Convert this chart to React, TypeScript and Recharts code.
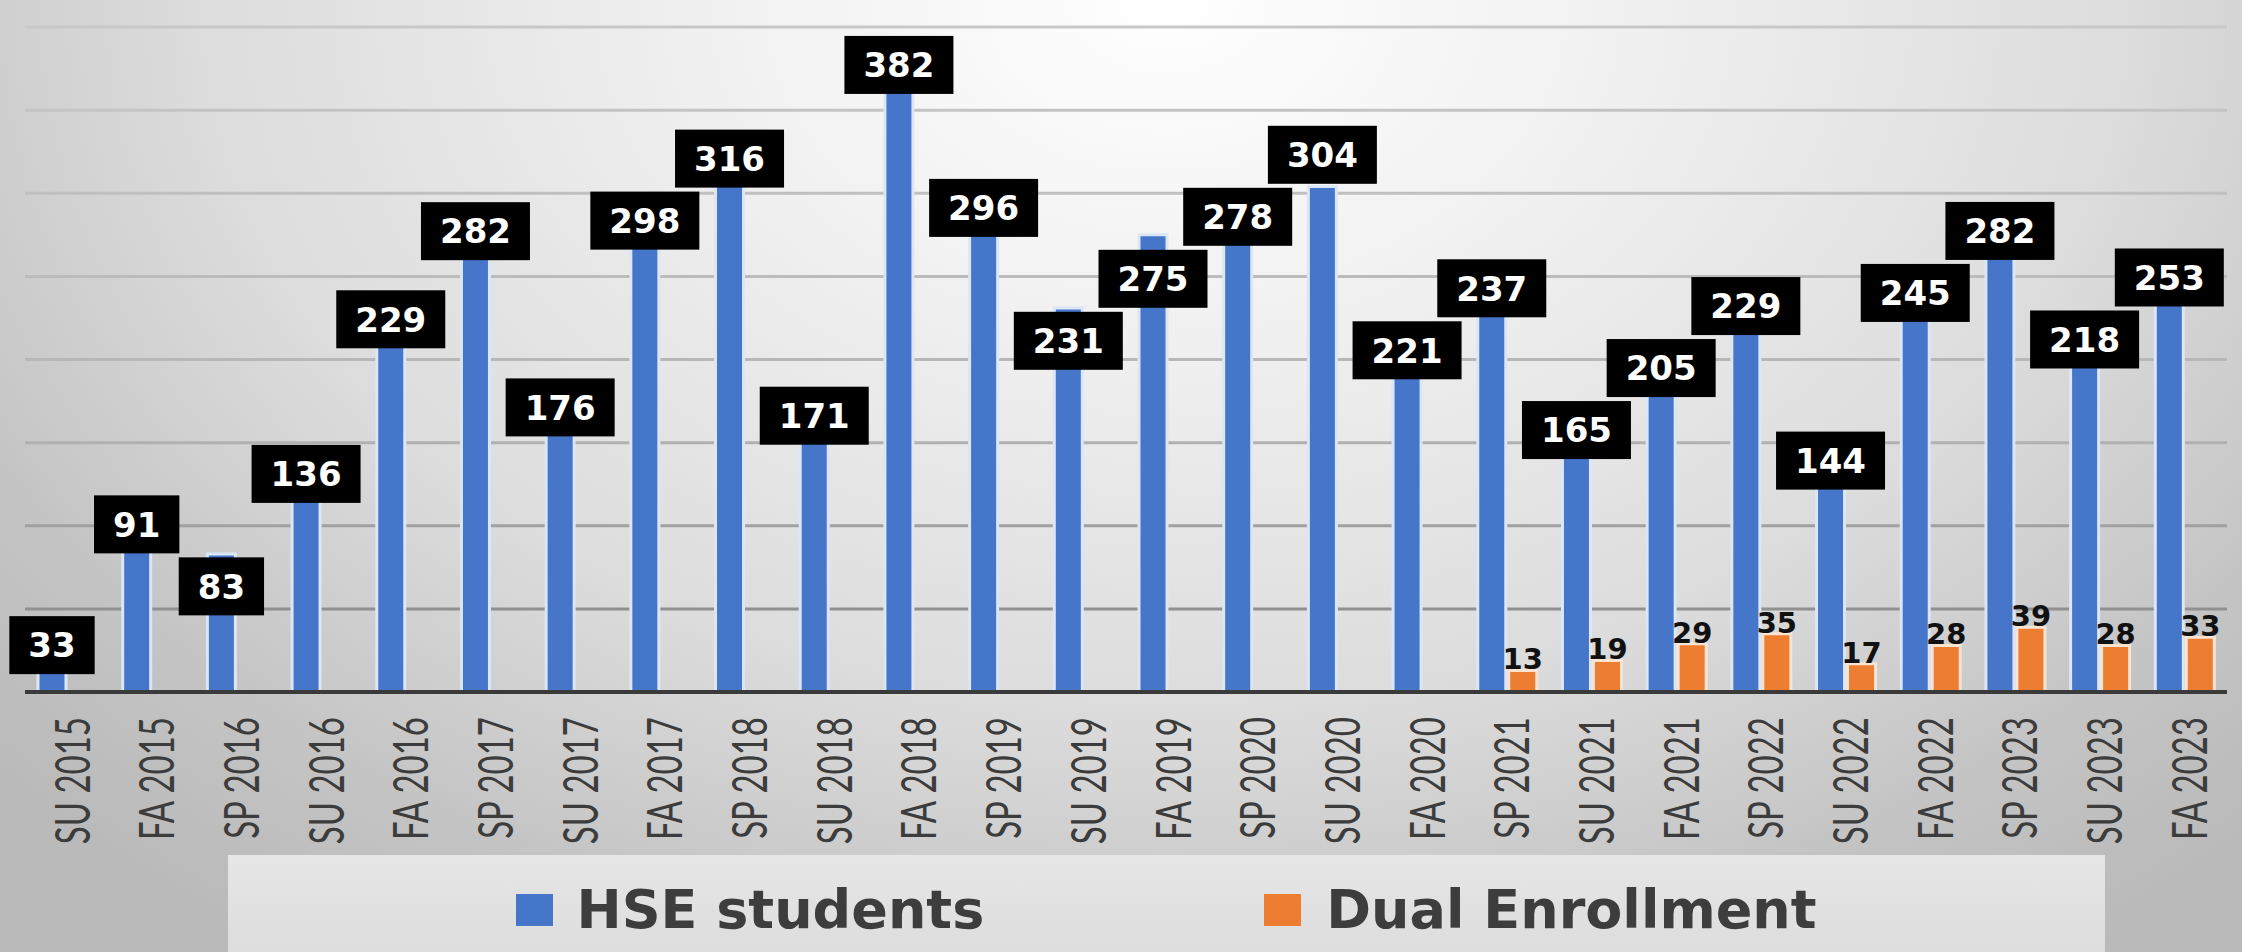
import React from 'react';
import { BarChart, Bar, XAxis, YAxis, CartesianGrid, LabelList } from 'recharts';

const categories = [
  'SU 2015', 'FA 2015', 'SP 2016', 'SU 2016', 'FA 2016', 'SP 2017', 'SU 2017', 'FA 2017',
  'SP 2018', 'SU 2018', 'FA 2018', 'SP 2019', 'SU 2019', 'FA 2019', 'SP 2020', 'SU 2020',
  'FA 2020', 'SP 2021', 'SU 2021', 'FA 2021', 'SP 2022', 'SU 2022', 'FA 2022', 'SP 2023',
  'SU 2023', 'FA 2023',
];

const hseStudents = [
  33, 91, 83, 136, 229, 282, 176, 298, 316, 171, 382, 296, 231, 275, 278, 304, 221, 237,
  165, 205, 229, 144, 245, 282, 218, 253,
];

const dualEnrollment: (number | null)[] = [
  null, null, null, null, null, null, null, null, null, null, null, null, null, null, null,
  null, null, 13, 19, 29, 35, 17, 28, 39, 28, 33,
];

const yTicks = [0, 50, 100, 150, 200, 250, 300, 350, 400];

const seriesNames = ['HSE students', 'Dual Enrollment'];

const data = categories.map((term, i) => ({
  term,
  hse: hseStudents[i],
  dual: dualEnrollment[i],
}));

const BLUE = '#4676CA';
const ORANGE = '#ED7D31';
const BOX_H = 58;
const BOX_GAP = 4;
const LABEL_FONT = 34;

function layoutCenters(tops: number[]): number[] {
  const c = tops.map((t) => t + 8);
  const need = BOX_H + BOX_GAP;
  for (let it = 0; it < 200; it++) {
    for (let i = 0; i < c.length - 1; i++) {
      const d = Math.abs(c[i] - c[i + 1]);
      if (d < need) {
        const push = (need - d) / 2;
        if (tops[i] <= tops[i + 1]) {
          c[i] -= push;
          c[i + 1] += push;
        } else {
          c[i] += push;
          c[i + 1] -= push;
        }
      }
    }
  }
  return c;
}

const HseLabel = (props: any) => {
  const vb = props.viewBox || {};
  const x = props.x ?? vb.x;
  const y = props.y ?? vb.y;
  const width = props.width ?? vb.width;
  const height = props.height ?? vb.height;
  const value = props.value;
  const index = props.index;
  if (value == null || !height) return null;
  const baseY = y + height;
  const ppu = height / value;
  const tops = hseStudents.map((v) => baseY - v * ppu);
  const centers = layoutCenters(tops);
  const cy = centers[index] ?? y + 8;
  const cx = x + width / 2;
  const digits = String(value).length;
  const w = digits * 0.696 * LABEL_FONT + 38;
  return (
    <g>
      <rect x={cx - w / 2} y={cy - BOX_H / 2} width={w} height={BOX_H} fill="#000000" />
      <text
        x={cx}
        y={cy}
        dy="0.36em"
        textAnchor="middle"
        fill="#ffffff"
        fontFamily="'DejaVu Sans', sans-serif"
        fontWeight="bold"
        fontSize={LABEL_FONT}
      >
        {value}
      </text>
    </g>
  );
};

const DualLabel = (props: any) => {
  const vb = props.viewBox || {};
  const x = props.x ?? vb.x;
  const y = props.y ?? vb.y;
  const width = props.width ?? vb.width;
  const value = props.value;
  if (value == null) return null;
  return (
    <text
      x={x + width / 2}
      y={y - 1}
      textAnchor="middle"
      fill="#111111"
      fontFamily="'DejaVu Sans', sans-serif"
      fontWeight="bold"
      fontSize={29}
    >
      {value}
    </text>
  );
};

const Tick = (props: any) => {
  const { x, y, payload } = props;
  return (
    <g transform={`translate(${x + 5},${y + 25})`}>
      <text
        transform="rotate(-90) scale(1,1.45)"
        textAnchor="end"
        dy="0.36em"
        fontFamily="Lato, sans-serif"
        fontSize={33}
        fill="#3c3c3c"
      >
        {payload.value}
      </text>
    </g>
  );
};

export default function App() {
  return (
    <div
      style={{
        position: 'absolute',
        left: 0,
        top: 0,
        width: 2242,
        height: 952,
        overflow: 'hidden',
        background:
          'radial-gradient(ellipse 70% 120% at 52% 0%, #ffffff 0%, #f0f0f0 30%, #dcdcdc 62%, #c4c4c4 85%, #bababa 100%)',
      }}
    >
      <BarChart
        width={2242}
        height={952}
        data={data}
        margin={{ top: 27, right: 15, bottom: 0, left: 25 }}
        barGap={3}
      >
        <defs>
          <linearGradient id="gridGrad" gradientUnits="userSpaceOnUse" x1="0" y1="27" x2="0" y2="692">
            <stop offset="0%" stopColor="#c8c8c8" />
            <stop offset="60%" stopColor="#b4b4b4" />
            <stop offset="100%" stopColor="#808080" />
          </linearGradient>
        </defs>
        <CartesianGrid vertical={false} stroke="url(#gridGrad)" strokeWidth={3} />
        <YAxis hide domain={[0, 400]} ticks={yTicks} />
        <XAxis
          dataKey="term"
          interval={0}
          height={260}
          tickSize={0}
          tickMargin={0}
          tickLine={false}
          axisLine={{ stroke: '#3a3a3a', strokeWidth: 4 }}
          tick={<Tick />}
        />
        <Bar
          dataKey="hse"
          name={seriesNames[0]}
          fill={BLUE}
          stroke="#dbe6f7"
          strokeWidth={3}
          barSize={28}
          isAnimationActive={false}
        >
          <LabelList dataKey="hse" content={<HseLabel />} />
        </Bar>
        <Bar
          dataKey="dual"
          name={seriesNames[1]}
          fill={ORANGE}
          stroke="#fbe3d2"
          strokeWidth={3}
          barSize={28}
          isAnimationActive={false}
        >
          <LabelList dataKey="dual" content={<DualLabel />} />
        </Bar>
      </BarChart>
      <div
        style={{
          position: 'absolute',
          left: 228,
          top: 855,
          width: 1877,
          height: 97,
          background: 'linear-gradient(180deg, #e6e6e6 0%, #dddddd 100%)',
          display: 'flex',
          alignItems: 'center',
          justifyContent: 'center',
          paddingTop: 12,
          boxSizing: 'border-box',
          fontFamily: "'DejaVu Sans', sans-serif",
          fontWeight: 'bold',
          fontSize: 54,
          color: '#3d3d3d',
        }}
      >
        <div style={{ display: 'flex', alignItems: 'center' }}>
          <span style={{ display: 'inline-block', width: 37, height: 32, background: BLUE, marginRight: 23 }} />
          <span style={{ lineHeight: 1 }}>{seriesNames[0]}</span>
        </div>
        <div style={{ display: 'flex', alignItems: 'center', marginLeft: 280 }}>
          <span style={{ display: 'inline-block', width: 37, height: 32, background: ORANGE, marginRight: 25 }} />
          <span style={{ lineHeight: 1 }}>{seriesNames[1]}</span>
        </div>
      </div>
    </div>
  );
}
